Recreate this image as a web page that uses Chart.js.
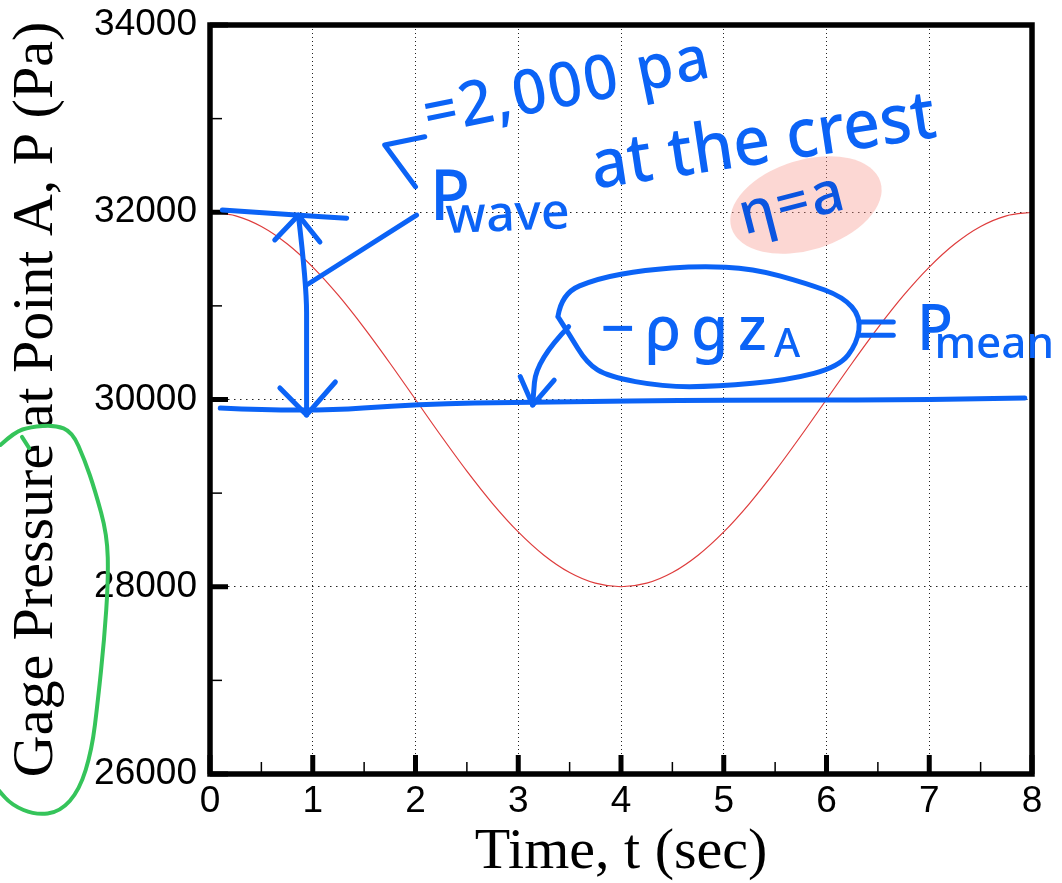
<!DOCTYPE html>
<html>
<head>
<meta charset="utf-8">
<script src="https://cdn.jsdelivr.net/npm/chart.js@4/dist/chart.umd.min.js"></script>
<style>
  html, body { margin: 0; padding: 0; background: #ffffff; }
  #wrap { width: 1062px; height: 883px; position: relative; }
</style>
</head>
<body>
<div id="wrap"><canvas id="c" width="1062" height="883"></canvas></div>
<script>
// ---- data ----
const timeSec = [0, 0.25, 0.5, 0.75, 1, 1.25, 1.5, 1.75, 2, 2.25, 2.5, 2.75, 3, 3.25, 3.5, 3.75, 4,
                 4.25, 4.5, 4.75, 5, 5.25, 5.5, 5.75, 6, 6.25, 6.5, 6.75, 7, 7.25, 7.5, 7.75, 8];
const pressurePa = [32000, 31962, 31848, 31663, 31414, 31111, 30765, 30390, 30000, 29610, 29235, 28889, 28586, 28337, 28152, 28038, 28000,
                    28038, 28152, 28337, 28586, 28889, 29235, 29610, 30000, 30390, 30765, 31111, 31414, 31663, 31848, 31962, 32000];
const xAxisRange = [0, 8];
const xTickStep = 1;
const yAxisRange = [26000, 34000];
const yTickStep = 2000;
const xTitle = 'Time, t (sec)';
const yTitle = 'Gage Pressure at Point A, P (Pa)';

// ---- hand-written annotations (in data units: t, P) ----
const annoBlue = '#0b63f6';
const crestLine = [[0.12, 32024], [0.85, 31969], [1.33, 31937]];
const ampShaft = [[0.86, 31969], [0.94, 31223], [0.94, 30636], [0.94, 29835]];
const ampHeadTop = [[0.63, 31704], [0.86, 31969], [1.07, 31682]];
const ampHeadBottom = [[0.68, 30123], [0.94, 29835], [1.22, 30187]];
const ampConnector = [[0.94, 31223], [2.01, 31969]];
const meanLine = [[0.10, 29909], [0.94, 29866], [2.04, 29952], [3.11, 29973], [5.06, 29995], [6.72, 29995], [7.93, 30016]];
const bracket = [[2.09, 32807], [1.70, 32718], [2.00, 32273]];
const meanLoop = [[3.386, 30884], [3.421, 31134], [3.772, 31294], [4.228, 31383], [4.754, 31426], [5.281, 31401],
                  [5.807, 31241], [6.158, 31098], [6.333, 30884], [6.298, 30600], [6.123, 30350], [5.632, 30208],
                  [4.93, 30137], [4.404, 30137], [3.877, 30244], [3.667, 30387], [3.491, 30707], [3.386, 30884]];
const loopArrow = [[3.49, 30778], [3.175, 30422], [3.14, 29941]];
const loopArrowHead = [[3.02, 30244], [3.14, 29941], [3.35, 30208]];
const eqBars = [[[6.33, 30829], [6.65, 30829]], [[6.33, 30687], [6.65, 30687]]];
const greenLoop = [[-2.04, 29514], [-1.90, 29653], [-1.75, 29706], [-1.51, 29728], [-1.34, 29653], [-1.22, 29354],
                   [-1.12, 29033], [-1.00, 28553], [-0.99, 28072], [-1.03, 27431], [-1.09, 26790], [-1.15, 26256],
                   [-1.27, 25829], [-1.46, 25594], [-1.70, 25562], [-1.93, 25669], [-2.06, 25829]];
const highlight = {t: 5.8, P: 32078};

const hand = '"Noto Sans"';

function smoothPath(ctx, pts) {
  ctx.beginPath();
  ctx.moveTo(pts[0][0], pts[0][1]);
  if (pts.length === 2) { ctx.lineTo(pts[1][0], pts[1][1]); return; }
  for (let i = 1; i < pts.length - 1; i++) {
    const mx = (pts[i][0] + pts[i + 1][0]) / 2, my = (pts[i][1] + pts[i + 1][1]) / 2;
    ctx.quadraticCurveTo(pts[i][0], pts[i][1], mx, my);
  }
  const l = pts[pts.length - 1];
  ctx.lineTo(l[0], l[1]);
}
function polyPath(ctx, pts) {
  ctx.beginPath();
  ctx.moveTo(pts[0][0], pts[0][1]);
  for (let i = 1; i < pts.length; i++) ctx.lineTo(pts[i][0], pts[i][1]);
}

const framePlugin = {
  id: 'frame',
  afterDatasetsDraw(chart) {
    const {ctx, chartArea: a, scales: {x, y}} = chart;
    ctx.save();
    ctx.strokeStyle = '#000';
    const xt = x.ticks.map(t => t.value);
    const yt = y.ticks.map(t => t.value);
    ctx.lineCap = 'butt';
    xt.forEach((v, i) => {
      const px = x.getPixelForValue(v);
      ctx.lineWidth = 5;
      ctx.beginPath(); ctx.moveTo(px, a.bottom); ctx.lineTo(px, a.bottom - 19); ctx.stroke();
      if (i < xt.length - 1) {
        const pm = x.getPixelForValue((v + xt[i + 1]) / 2);
        ctx.lineWidth = 1.5;
        ctx.beginPath(); ctx.moveTo(pm, a.bottom); ctx.lineTo(pm, a.bottom - 12); ctx.stroke();
      }
    });
    yt.forEach((v, i) => {
      const py = y.getPixelForValue(v);
      ctx.lineWidth = 5;
      ctx.beginPath(); ctx.moveTo(a.left, py); ctx.lineTo(a.left + 18, py); ctx.stroke();
      if (i < yt.length - 1) {
        const pm = y.getPixelForValue((v + yt[i + 1]) / 2);
        ctx.lineWidth = 1.5;
        ctx.beginPath(); ctx.moveTo(a.left, pm); ctx.lineTo(a.left + 12, pm); ctx.stroke();
      }
    });
    ctx.lineWidth = 5.5;
    ctx.lineJoin = 'miter';
    ctx.strokeRect(a.left, a.top, a.right - a.left, a.bottom - a.top);
    ctx.restore();
  }
};

const annoPlugin = {
  id: 'anno',
  afterDraw(chart) {
    const {ctx, scales: {x, y}} = chart;
    const P = arr => arr.map(([t, p]) => [x.getPixelForValue(t), y.getPixelForValue(p)]);
    ctx.save();
    // pink highlight behind eta = a
    ctx.fillStyle = 'rgba(246,150,140,0.38)';
    ctx.beginPath();
    ctx.ellipse(x.getPixelForValue(highlight.t), y.getPixelForValue(highlight.P), 78, 45, -0.3, 0, Math.PI * 2);
    ctx.fill();

    ctx.strokeStyle = annoBlue;
    ctx.lineWidth = 5;
    ctx.lineCap = 'round';
    ctx.lineJoin = 'round';
    [crestLine, ampShaft, meanLine, meanLoop, loopArrow].forEach(s => { smoothPath(ctx, P(s)); ctx.stroke(); });
    [ampHeadTop, ampHeadBottom, ampConnector, bracket, loopArrowHead, eqBars[0], eqBars[1]].forEach(s => { polyPath(ctx, P(s)); ctx.stroke(); });

    // green loop around y title
    ctx.strokeStyle = '#35c45a';
    ctx.lineWidth = 4;
    smoothPath(ctx, P(greenLoop)); ctx.stroke();
    polyPath(ctx, P([[-1.83, 29600], [-1.76, 29480]])); ctx.stroke();

    // hand-written text
    ctx.fillStyle = annoBlue;
    ctx.textBaseline = 'alphabetic';
    ctx.textAlign = 'left';
    function txt(s, t, p, size, angle, maxW, spacing) {
      ctx.save();
      ctx.translate(x.getPixelForValue(t), y.getPixelForValue(p));
      ctx.rotate(angle || 0);
      ctx.font = '500 ' + size + 'px ' + hand;
      ctx.letterSpacing = (spacing || 0) + 'px';
      if (maxW) ctx.fillText(s, 0, 0, maxW); else ctx.fillText(s, 0, 0);
      ctx.restore();
    }
    txt('=2,000 pa', 2.12, 32830, 62, -0.2, 292, 2);
    txt('P', 2.14, 31917, 70, 0, 40);
    txt('wave', 2.30, 31778, 50, -0.04, 140);
    txt('at the crest', 3.74, 32250, 68, -0.15, 348);
    ctx.fillStyle = '#0a55e0';
    txt('η=a', 5.2, 31760, 58, -0.25, 128, 2);
    ctx.fillStyle = annoBlue;
    txt('−ρgz', 3.80, 30529, 62, 0, 176, 10);
    txt('A', 5.49, 30454, 40, 0, 30);
    txt('P', 6.88, 30529, 64, 0, 36);
    txt('mean', 7.05, 30443, 44, 0, 140);
    ctx.restore();
  }
};

new Chart(document.getElementById('c'), {
  type: 'line',
  data: {
    datasets: [{
      data: timeSec.map((t, i) => ({x: t, y: pressurePa[i]})),
      borderColor: 'rgb(222,60,60)',
      borderWidth: 1.2,
      pointRadius: 0,
      fill: false,
      cubicInterpolationMode: 'monotone'
    }]
  },
  options: {
    responsive: false,
    animation: false,
    events: [],
    layout: { padding: { left: 0, top: 25, right: 30, bottom: 0 } },
    plugins: { legend: { display: false }, tooltip: { enabled: false } },
    scales: {
      x: {
        type: 'linear',
        min: xAxisRange[0], max: xAxisRange[1],
        afterFit(s) { s.height = 109; s.paddingLeft = 0; s.paddingRight = 0; },
        ticks: { stepSize: xTickStep, color: '#000', padding: 6, font: { family: '"Liberation Sans", Arial, sans-serif', size: 37 }, maxRotation: 0 },
        grid: { color: '#222', lineWidth: 1, drawTicks: false },
        border: { display: false, dash: [1, 3] },
        title: { display: true, text: xTitle, color: '#000', padding: { top: 0, bottom: 1 },
                 font: { family: '"Liberation Serif", "Times New Roman", serif', size: 58, lineHeight: 1 } }
      },
      y: {
        type: 'linear',
        min: yAxisRange[0], max: yAxisRange[1],
        afterFit(s) { s.width = 210; s.paddingTop = 0; s.paddingBottom = 0; },
        ticks: { stepSize: yTickStep, color: '#000', padding: 13, font: { family: '"Liberation Sans", Arial, sans-serif', size: 37 },
                 callback: v => String(v) },
        grid: { color: '#222', lineWidth: 1, drawTicks: false },
        border: { display: false, dash: [1.5, 4.5] },
        title: { display: true, text: yTitle, color: '#000', padding: { top: 8, bottom: 0 },
                 font: { family: '"Liberation Serif", "Times New Roman", serif', size: 58, lineHeight: 1 } }
      }
    }
  },
  plugins: [framePlugin, annoPlugin]
});
</script>
</body>
</html>
